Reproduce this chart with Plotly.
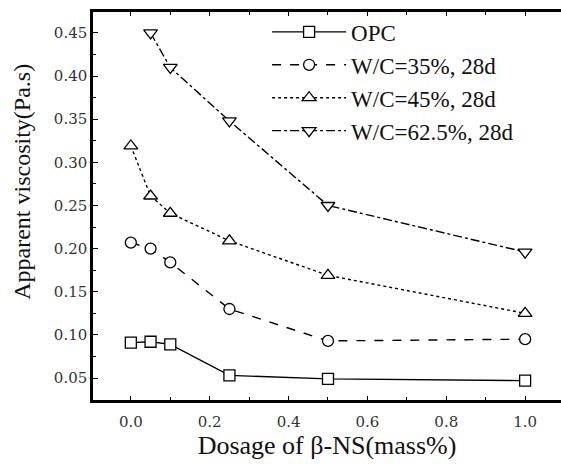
import plotly.graph_objects as go

# Data
dosage = [0.0, 0.05, 0.1, 0.25, 0.5, 1.0]
opc = [0.091, 0.092, 0.089, 0.053, 0.049, 0.047]
wc35 = [0.207, 0.200, 0.184, 0.130, 0.093, 0.095]
wc45 = [0.319, 0.261, 0.241, 0.209, 0.169, 0.125]
wc625_x = [0.05, 0.1, 0.25, 0.5, 1.0]
wc625 = [0.450, 0.410, 0.348, 0.250, 0.196]

names = ["OPC", "W/C=35%, 28d", "W/C=45%, 28d", "W/C=62.5%, 28d"]
xs = [dosage, dosage, dosage, wc625_x]
ys = [opc, wc35, wc45, wc625]
dashes = ["solid", "dash", "dot", "dashdot"]
symbols = ["square", "circle", "triangle-up", "triangle-down"]
sizes = [11, 11, 12, 12]

xticks = [0.0, 0.2, 0.4, 0.6, 0.8, 1.0]
yticks = [0.05, 0.10, 0.15, 0.20, 0.25, 0.30, 0.35, 0.40, 0.45]
yrange = [0.0245, 0.4743]

fig = go.Figure()
for i in range(4):
    fig.add_trace(go.Scatter(
        x=xs[i], y=ys[i], name=names[i], mode="lines+markers",
        legendgroup=f"g{i}",
        line=dict(color="black", width=1.4, dash=dashes[i]),
        marker=dict(symbol=symbols[i], size=sizes[i], color="white",
                    line=dict(color="black", width=1.3)),
    ))

serif = "Liberation Serif"
tickfont = dict(family="DejaVu Serif", size=15, color="#333")
fig.update_layout(
    width=561, height=464,
    margin=dict(l=93, r=0, t=12, b=64),
    paper_bgcolor="white", plot_bgcolor="white",
    showlegend=True,
    legend=dict(
        x=0.372, y=1.004, xanchor="left", yanchor="top",
        bgcolor="rgba(0,0,0,0)", borderwidth=0,
        font=dict(family=serif, size=23, color="#111"),
        itemwidth=74, tracegroupgap=0,
    ),
    xaxis=dict(
        range=[-0.096, 1.091], tickvals=xticks, ticktext=[f"{v:.1f}" for v in xticks],
        showline=True, linecolor="black", linewidth=2.5, mirror="ticks",
        ticks="inside", ticklen=4, tickwidth=1.2, tickcolor="black",
        minor=dict(dtick=0.1, tick0=0, ticks="inside", ticklen=3, tickcolor="black"),
        showgrid=False, zeroline=False, ticklabelstandoff=6,
        tickfont=tickfont,
        title=dict(text="Dosage of β-NS(mass%)", standoff=4,
                   font=dict(family=serif, size=26, color="#111")),
    ),
    yaxis=dict(
        range=yrange, tickvals=yticks, ticktext=[f"{v:.2f}" for v in yticks],
        showline=True, linecolor="black", linewidth=2.5, mirror=False,
        ticks="inside", ticklen=5, tickwidth=1.2, tickcolor="black",
        minor=dict(dtick=0.025, tick0=0.025, ticks="inside", ticklen=3, tickcolor="black"),
        showgrid=False, zeroline=False,
        tickfont=tickfont,
    ),
    yaxis2=dict(
        range=yrange, overlaying="y", side="right", anchor="x",
        tickvals=yticks, showticklabels=False, showline=False,
        ticks="inside", ticklen=5, tickwidth=1.2, tickcolor="black",
        minor=dict(dtick=0.025, tick0=0.025, ticks="inside", ticklen=3, tickcolor="black"),
        showgrid=False, zeroline=False,
    ),
    annotations=[dict(
        text="Apparent viscosity(Pa.s)", textangle=-90,
        xref="paper", yref="paper", x=-0.152, y=0.562,
        xanchor="center", yanchor="middle", showarrow=False,
        font=dict(family=serif, size=24, color="#111"),
    )],
)

fig.write_html("out.html")
